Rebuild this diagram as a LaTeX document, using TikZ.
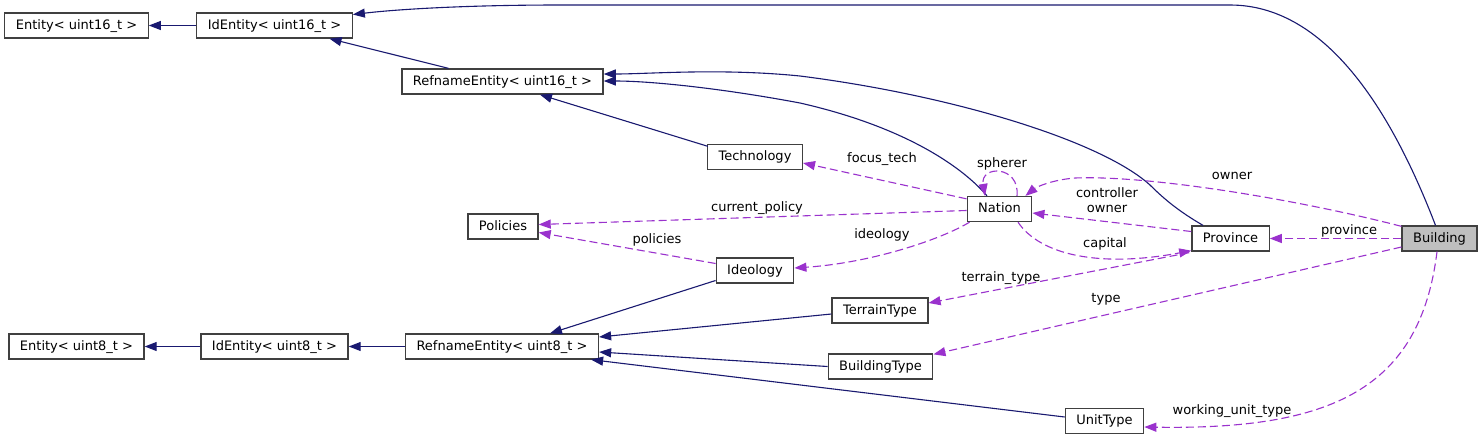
\documentclass[tikz,border=0pt]{standalone}
\usepackage{fontspec}
\setmainfont{DejaVu Sans}
\usetikzlibrary{arrows.meta,calc}
\definecolor{inhc}{HTML}{191970}
\definecolor{assc}{HTML}{9A32CD}
\definecolor{bord}{HTML}{404040}
\definecolor{gfill}{HTML}{BFBFBF}
\begin{document}
\begin{tikzpicture}[x=1pt,y=-1pt,
  box/.style={draw=bord, line width=1.3pt, fill=white, minimum height=25pt, inner xsep=11pt, inner ysep=0pt,
    text height=9.5pt, text depth=2.5pt, font=\fontsize{13pt}{15pt}\selectfont},
  lbl/.style={inner sep=0pt, text height=9.5pt, text depth=2.5pt, font=\fontsize{13pt}{15pt}\selectfont},
  inh/.style={draw=inhc, line width=1.1pt, -{Triangle[length=12pt,width=9pt]}},
  assoc/.style={draw=assc, line width=1.1pt, dash pattern=on 8pt off 4pt, -{Triangle[length=12pt,width=9pt]}}]
\useasboundingbox (0,0) rectangle (1483,440);
\fill[white] (0,0) rectangle (1483,440);

% nodes
\node[box] (E16) at (76.5,25.5) {Entity< uint16\_t >};
\node[box] (IdE16) at (274.5,25.5) {IdEntity< uint16\_t >};
\node[box] (Ref16) at (502.5,81.5) {RefnameEntity< uint16\_t >};
\node[box] (Tech) at (755,157) {Technology};
\node[box] (Nation) at (999.5,209) {Nation};
\node[box] (Policies) at (503,226.5) {Policies};
\node[box] (Province) at (1230.5,238.5) {Province};
\node[box, fill=gfill] (Building) at (1439.5,238.5) {Building};
\node[box] (Ideology) at (755,270.5) {Ideology};
\node[box] (Terrain) at (880,310.5) {TerrainType};
\node[box] (E8) at (76.5,346.5) {Entity< uint8\_t >};
\node[box] (IdE8) at (274.5,346.5) {IdEntity< uint8\_t >};
\node[box] (Ref8) at (502,346.5) {RefnameEntity< uint8\_t >};
\node[box] (BType) at (880.5,366.5) {BuildingType};
\node[box] (Unit) at (1104.5,421) {UnitType};

% inheritance edges
\draw[inh] (IdE16.west) -- (E16.east);
\draw[inh] ($(Ref16.north)+(-54,0)$) -- ($(IdE16.south)+(55,0)$);
\draw[inh] ($(Building.north)+(-4,0)$) .. controls (1395,120) and (1330,5) .. (1230,5)
   -- (560,5) .. controls (470,5) and (400,9) .. ($(IdE16.east)+(0,-11)$);
\draw[inh] ($(Tech.north west)+(1,2.5)$) -- ($(Ref16.south)+(37.5,0)$);
\draw[inh] ($(Nation.north)+(-12.5,0)$) .. controls (965,170) and (910,128) .. (800,103)
   .. controls (720,88) and (650,81) .. ($(Ref16.east)+(0,-0.5)$);
\draw[inh] ($(Province.north)+(-27.5,0)$) .. controls (1180,212) and (1165,200) .. (1150,185)
   .. controls (1100,140) and (950,95) .. (800,76) .. controls (720,68) and (650,74) .. ($(Ref16.east)+(0,-7.5)$);
\draw[inh] ($(Ideology.west)+(0,10)$) -- ($(Ref8.north)+(48,0)$);
\draw[inh] ($(Terrain.west)+(0,3.5)$) -- ($(Ref8.east)+(0,-9.5)$);
\draw[inh] (BType.west) -- ($(Ref8.east)+(0,5.5)$);
\draw[inh] ($(Unit.west)+(0,-4)$) -- ($(Ref8.south east)+(-8,0)$);
\draw[inh] (IdE8.west) -- (E8.east);
\draw[inh] (Ref8.west) -- (IdE8.east);

% association edges
\draw[assoc] ($(Nation.north west)+(0,3)$) -- ($(Tech.east)+(0,6)$);
\node[lbl] (lfocus) at (882,159) {focus\_tech};
\draw[assoc] ($(Nation.west)+(0,1.5)$) -- ($(Policies.east)+(0,-2)$);
\node[lbl] (lcur) at (757,208) {current\_policy};
\draw[assoc] ($(Nation.south west)+(3,0)$) .. controls (940,240) and (870,263) .. ($(Ideology.east)+(0,-2.5)$);
\node[lbl] (lideo) at (882,235) {ideology};
\draw[assoc] ($(Ideology.west)+(0,-7)$) -- ($(Policies.east)+(0,6)$);
\node[lbl] (lpol) at (657,240) {policies};
\draw[assoc] ($(Nation.north)+(17.5,0)$) .. controls (1020,165) and (980,165) .. ($(Nation.north)+(-14.5,0)$);
\node[lbl] (lsph) at (1002,164) {spherer};
\draw[assoc] ($(Building.north west)+(0,1)$) .. controls (1300,200) and (1150,175) .. (1075,178)
   .. controls (1050,180) and (1035,188) .. ($(Nation.north east)+(-7,0)$);
\node[lbl] (lown) at (1232,176) {owner};
\draw[assoc] ($(Province.west)+(0,-7)$) -- ($(Nation.east)+(0,4)$);
\node[lbl] (lctl) at (1107,194) {controller};
\node[lbl] (lown2) at (1107,209) {owner};
\draw[assoc] ($(Nation.south)+(18.5,0)$) .. controls (1040,255) and (1100,268) .. ($(Province.south west)+(0,-1)$);
\node[lbl] (lcap) at (1105,244) {capital};
\draw[assoc] (Building.west) -- (Province.east);
\node[lbl] (lprov) at (1349,231) {province};
\draw[assoc] ($(Province.south west)+(-2,1)$) -- ($(Terrain.east)+(0,-7.5)$);
\node[lbl] (lter) at (1001,278) {terrain\_type};
\draw[assoc] ($(Building.west)+(0,8.5)$) -- ($(BType.north east)+(0,1)$);
\node[lbl] (ltype) at (1106,299) {type};
\draw[assoc] ($(Building.south)+(-2.5,0)$) .. controls (1420,390) and (1330,430) .. ($(Unit.east)+(0,6)$);
\node[lbl] (lwut) at (1232,411) {working\_unit\_type};
\end{tikzpicture}
\end{document}
